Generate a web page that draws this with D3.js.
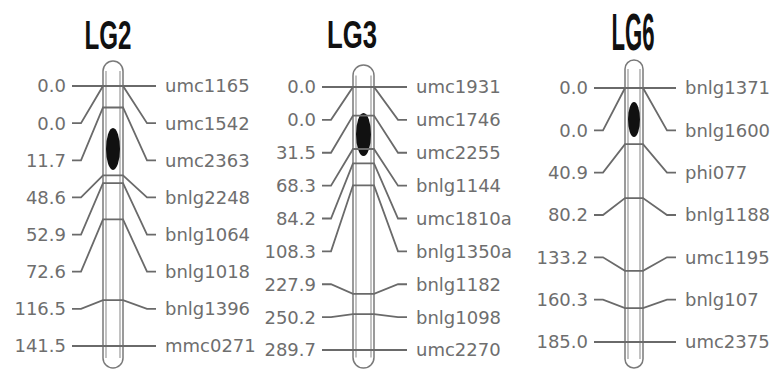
<!DOCTYPE html>
<head>
  <meta charset="utf-8">
  <script src="https://d3js.org/d3.v7.min.js"></script>
  <style>
    body { margin: 0; background: #fff; }
    svg { display: block; }
  </style>
</head>

<body>
  <svg width="771" height="370"></svg>
  <script>
    // data
    var groups = ["LG2", "LG3", "LG6"];

    var lg2Markers = ["umc1165", "umc1542", "umc2363", "bnlg2248", "bnlg1064", "bnlg1018", "bnlg1396", "mmc0271"];
    var lg2Pos = [0.0, 0.0, 11.7, 48.6, 52.9, 72.6, 116.5, 141.5];

    var lg3Markers = ["umc1931", "umc1746", "umc2255", "bnlg1144", "umc1810a", "bnlg1350a", "bnlg1182", "bnlg1098", "umc2270"];
    var lg3Pos = [0.0, 0.0, 31.5, 68.3, 84.2, 108.3, 227.9, 250.2, 289.7];

    var lg6Markers = ["bnlg1371", "bnlg1600", "phi077", "bnlg1188", "umc1195", "bnlg107", "umc2375"];
    var lg6Pos = [0.0, 0.0, 40.9, 80.2, 133.2, 160.3, 185.0];

    // QTL intervals (cM)
    var qtlStart = [22.9, 28.6, 10.2];
    var qtlEnd = [45.7, 76.0, 35.7];

    // layout options
    var panels = [
      {cx: 113, top: 86, bottom: 346, capTop: 61, titleX: 108, titleY: 49, titleSize: 40, titleLen: 47, w: 20},
      {cx: 363.5, top: 87, bottom: 350, capTop: 65, titleX: 352, titleY: 48, titleSize: 39, titleLen: 50, w: 21},
      {cx: 634, top: 88, bottom: 342, capTop: 60, titleX: 633, titleY: 50, titleSize: 51, titleLen: 43, w: 18}
    ];
    var markers = [lg2Markers, lg3Markers, lg6Markers];
    var positions = [lg2Pos, lg3Pos, lg6Pos];
    var capBottom = 368;
    var reachL = 22, reachR = 24, tick = 9;
    var fmt = d3.format(".1f");

    var svg = d3.select('svg');

    panels.forEach(function(p, k) {
      var pos = positions[k];
      var names = markers[k];
      var hw = p.w / 2;

      // scales
      var y = d3.scaleLinear()
        .domain([0, d3.max(pos)])
        .range([p.top, p.bottom]);
      var slot = d3.scalePoint()
        .domain(d3.range(pos.length))
        .range([p.top, p.bottom]);

      var g = svg.append('g');

      // title
      g.append('text')
        .attr('x', p.titleX)
        .attr('y', p.titleY)
        .attr('text-anchor', 'middle')
        .attr('textLength', p.titleLen)
        .attr('lengthAdjust', 'spacingAndGlyphs')
        .style('font-family', '"Liberation Sans Narrow", "Liberation Sans", Arial, sans-serif')
        .style('font-weight', 'bold')
        .style('font-size', p.titleSize + 'px')
        .attr('fill', '#111')
        .text(groups[k]);

      // chromosome body
      g.append('rect')
        .attr('x', p.cx - hw)
        .attr('y', p.capTop)
        .attr('width', p.w)
        .attr('height', capBottom - p.capTop)
        .attr('rx', hw)
        .attr('fill', '#fff')
        .attr('stroke', '#7a7a7a')
        .attr('stroke-width', 1.5);
      [-hw + 3, hw - 3].forEach(function(dx) {
        g.append('line')
          .attr('x1', p.cx + dx).attr('x2', p.cx + dx)
          .attr('y1', p.capTop + hw).attr('y2', capBottom - hw)
          .attr('stroke', '#9a9a9a')
          .attr('stroke-width', 1.2);
      });

      // QTL ellipse
      var ys = y(qtlStart[k]), ye = y(qtlEnd[k]);
      g.append('ellipse')
        .attr('cx', p.cx)
        .attr('cy', (ys + ye) / 2)
        .attr('rx', hw - 3)
        .attr('ry', (ye - ys) / 2)
        .attr('fill', '#111');

      // connectors
      var line = d3.line();
      g.selectAll('path.conn')
        .data(pos)
        .enter().append('path')
        .attr('class', 'conn')
        .attr('d', function(d, i) {
          var ly = slot(i), my = y(d);
          return line([
            [p.cx - hw - reachL - tick, ly],
            [p.cx - hw - reachL, ly],
            [p.cx - hw, my],
            [p.cx + hw, my],
            [p.cx + hw + reachR, ly],
            [p.cx + hw + reachR + tick, ly]
          ]);
        })
        .attr('fill', 'none')
        .attr('stroke', '#6a6a6a')
        .attr('stroke-width', 1.8);

      // left labels (position)
      g.selectAll('text.pos')
        .data(pos)
        .enter().append('text')
        .attr('class', 'pos')
        .attr('x', p.cx - hw - reachL - tick - 6)
        .attr('y', function(d, i) { return slot(i); })
        .attr('dy', '0.36em')
        .attr('text-anchor', 'end')
        .style('font-family', '"DejaVu Sans", sans-serif')
        .style('font-size', '18px')
        .attr('fill', '#6e6e6e')
        .text(function(d) { return fmt(d); });

      // right labels (marker)
      g.selectAll('text.mk')
        .data(names)
        .enter().append('text')
        .attr('class', 'mk')
        .attr('x', p.cx + hw + reachR + tick + 9)
        .attr('y', function(d, i) { return slot(i); })
        .attr('dy', '0.36em')
        .style('font-family', '"DejaVu Sans", sans-serif')
        .style('font-size', '18px')
        .attr('fill', '#6e6e6e')
        .text(function(d) { return d; });
    });
  </script>
</body>
